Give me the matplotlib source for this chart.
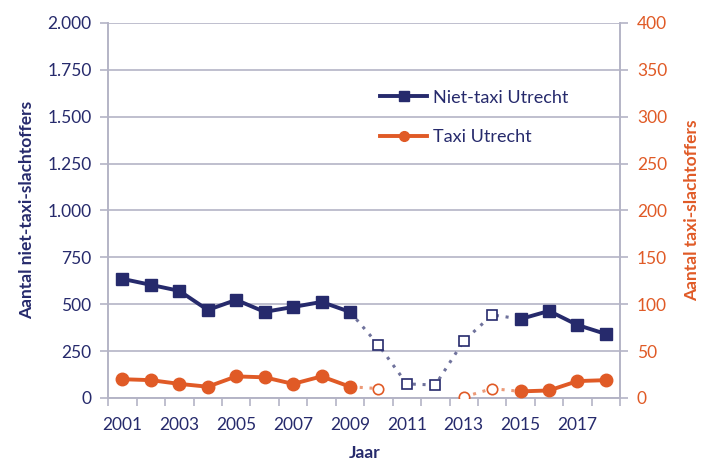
import matplotlib.pyplot as plt
import matplotlib.ticker as mticker

plt.rcParams['font.family'] = ['Lato', 'DejaVu Sans']

navy = '#262a6c'
orange = '#e05a26'
grid_col = '#b4b4c6'

years = list(range(2001, 2019))
# niet-taxi slachtoffers (left axis); 2010-2014 are uncertain (open markers)
niet_taxi = [635, 603, 571, 469, 523, 459, 485, 512, 459,
             283, 75, 69, 304, 443, 421, 464, 389, 341]
# taxi slachtoffers (right axis); None = no data
taxi = [20, 19, 15, 12, 23, 22, 15, 23, 12,
        10, None, None, 1, 10, 7, 8, 18, 19]
uncertain = [2010, 2011, 2012, 2013, 2014]

yticks_left = [0, 250, 500, 750, 1000, 1250, 1500, 1750, 2000]
yticks_right = [0, 50, 100, 150, 200, 250, 300, 350, 400]
xlabels = [2001, 2003, 2005, 2007, 2009, 2011, 2013, 2015, 2017]


def dutch(v, pos):
    return f'{int(v):,}'.replace(',', '.')


fig, ax = plt.subplots(figsize=(7.12, 4.66), dpi=100)
fig.subplots_adjust(left=0.152, right=0.871, bottom=0.146, top=0.951)
ax2 = ax.twinx()

# solid pieces before and after the uncertain years
def pieces(vals):
    solid1 = [(y, v) for y, v in zip(years, vals) if y <= 2009 and v is not None]
    solid2 = [(y, v) for y, v in zip(years, vals) if y >= 2015 and v is not None]
    mid = [(y, v) for y, v in zip(years, vals) if 2009 <= y <= 2015]
    return solid1, solid2, mid


s1, s2, mid = pieces(niet_taxi)
ax.plot([p[0] for p in mid], [p[1] for p in mid], ls=(0, (1, 2.2)), lw=2.2,
        color='#6f729c', zorder=2)
opn = [(y, v) for y, v in zip(years, niet_taxi) if y in uncertain]
ax.plot([p[0] for p in opn], [p[1] for p in opn], ls='none', marker='s', ms=7.5,
        mfc='white', mec=navy, mew=1.2, zorder=3)
for seg in (s1, s2):
    ax.plot([p[0] for p in seg], [p[1] for p in seg], color=navy, lw=2.8,
            marker='s', ms=9, zorder=4)

t1, t2, tmid = pieces(taxi)
for a, b in [(2009, 2010), (2013, 2015)]:
    seg = [(y, v) for y, v in zip(years, taxi) if a <= y <= b and v is not None]
    ax2.plot([p[0] for p in seg], [p[1] for p in seg], ls=(0, (1, 2.2)), lw=2.2,
             color='#ec9a78', zorder=2)
topn = [(y, v) for y, v in zip(years, taxi) if y in uncertain and v is not None]
ax2.plot([p[0] for p in topn], [p[1] for p in topn], ls='none', marker='o', ms=7.5,
         mfc='white', mec=orange, mew=1.2, zorder=3)
for seg in (t1, t2):
    ax2.plot([p[0] for p in seg], [p[1] for p in seg], color=orange, lw=2.8,
             marker='o', ms=9, zorder=4)

# legend proxies
ax.plot([], [], color=navy, lw=2.8, marker='s', ms=7, label='Niet-taxi Utrecht')
ax.plot([], [], color=orange, lw=2.8, marker='o', ms=7, label='Taxi Utrecht')
leg = ax.legend(loc='upper left', bbox_to_anchor=(0.5, 0.865), frameon=False,
                fontsize=13, handlelength=2.6, labelspacing=1.3, handletextpad=0.3)
for t in leg.get_texts():
    t.set_color(navy)

ax.set_xlim(2000.5, 2018.5)
ax.set_ylim(0, 2000)
ax2.set_ylim(0, 400)
ax.set_yticks(yticks_left)
ax2.set_yticks(yticks_right)
ax.yaxis.set_major_formatter(mticker.FuncFormatter(dutch))
ax.grid(axis='y', color=grid_col, lw=1.2)
ax.set_axisbelow(True)

ax.set_xticks([y + 0.5 for y in range(2000, 2019)])
ax.set_xticklabels([])
ax.set_xticks(xlabels, minor=True)
ax.set_xticklabels([str(x) for x in xlabels], minor=True)
ax.tick_params(axis='x', which='major', length=6, color=grid_col, width=1.2)
ax.tick_params(axis='x', which='minor', length=0, labelcolor=navy, labelsize=12.5, pad=14)
ax.tick_params(axis='y', length=6, color=grid_col, width=1.2, labelcolor=navy,
               labelsize=12.5, pad=6)
ax2.tick_params(axis='y', length=6, color=grid_col, width=1.2, labelcolor=orange,
                labelsize=12.5, pad=6)

for a in (ax, ax2):
    for side in ('left', 'right', 'bottom'):
        a.spines[side].set_color(grid_col)
        a.spines[side].set_linewidth(1.2)
    a.spines['top'].set_visible(False)

ax.set_xlabel('Jaar', color=navy, fontweight='bold', fontsize=12.5, labelpad=8)
ax.set_ylabel('Aantal niet-taxi-slachtoffers', color=navy, fontweight='bold',
              fontsize=12.5, labelpad=9)
ax2.set_ylabel('Aantal taxi-slachtoffers', color=orange, fontweight='bold',
               fontsize=12.5, rotation=90, labelpad=12)

fig.savefig('out.png', dpi=100)
